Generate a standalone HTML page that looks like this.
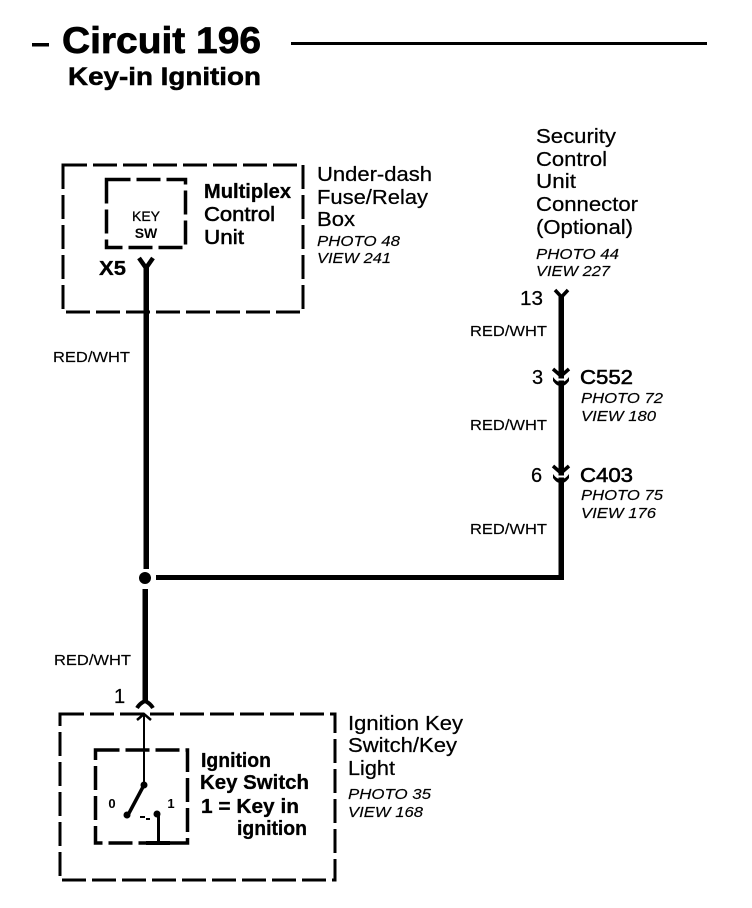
<!DOCTYPE html>
<html>
<head>
<meta charset="utf-8">
<style>
html,body{margin:0;padding:0;background:#fff;width:752px;height:908px;overflow:hidden}
svg{display:block}
text{font-family:"Liberation Sans",Arial,sans-serif;fill:#000}
.n{font-size:20px;stroke:#000;stroke-width:.25px}
.m{font-size:20px;stroke:#000;stroke-width:.55px}
.b{font-size:20px;font-weight:bold;stroke:#000;stroke-width:.3px}
.i{font-size:14.5px;font-style:italic;stroke:#000;stroke-width:.15px}
.w{font-size:14.5px;stroke:#000;stroke-width:.15px}
</style>
</head>
<body>
<svg width="752" height="908" viewBox="0 0 752 908" xmlns="http://www.w3.org/2000/svg">
<rect width="752" height="908" fill="#fff"/>
<!-- title -->
<rect x="32" y="43" width="17" height="3.500"/>
<rect x="291" y="42" width="416" height="3"/>
<text x="62" y="53" font-size="37" font-weight="bold" stroke="#000" stroke-width=".7" textLength="199" lengthAdjust="spacingAndGlyphs">Circuit 196</text>
<text x="68" y="85" font-size="25" font-weight="bold" stroke="#000" stroke-width=".5" textLength="193" lengthAdjust="spacingAndGlyphs">Key-in Ignition</text>

<!-- top-left boxes -->
<rect x="63" y="165" width="240" height="147" fill="none" stroke="#000" stroke-width="3" stroke-dasharray="24 6"/>
<rect x="106.500" y="179.500" width="79" height="68" fill="none" stroke="#000" stroke-width="3.500" stroke-dasharray="24 6"/>
<text x="146" y="221" font-size="14" stroke="#000" stroke-width=".3" text-anchor="middle">KEY</text>
<text x="146" y="238" font-size="14" font-weight="bold" text-anchor="middle">SW</text>
<text class="b" x="204" y="198" textLength="87" lengthAdjust="spacingAndGlyphs">Multiplex</text>
<text class="m" x="204" y="221" textLength="71" lengthAdjust="spacingAndGlyphs">Control</text>
<text class="m" x="204" y="244" textLength="40" lengthAdjust="spacingAndGlyphs">Unit</text>
<text class="b" x="99" y="275" textLength="27" lengthAdjust="spacingAndGlyphs">X5</text>
<text class="n" x="317" y="181" textLength="115" lengthAdjust="spacingAndGlyphs">Under-dash</text>
<text class="n" x="317" y="204" textLength="111" lengthAdjust="spacingAndGlyphs">Fuse/Relay</text>
<text class="n" x="317" y="226" textLength="38" lengthAdjust="spacingAndGlyphs">Box</text>
<text class="i" x="317" y="246" textLength="83" lengthAdjust="spacingAndGlyphs">PHOTO 48</text>
<text class="i" x="317" y="263" textLength="74" lengthAdjust="spacingAndGlyphs">VIEW 241</text>

<!-- main left wire -->
<path d="M139 258 L146 268 L153 258" fill="none" stroke="#000" stroke-width="4.500"/>
<rect x="143.500" y="266" width="5.500" height="303"/>
<text class="w" x="53" y="362" textLength="77" lengthAdjust="spacingAndGlyphs">RED/WHT</text>
<circle cx="145" cy="578" r="6"/>
<rect x="156" y="575" width="408" height="5"/>
<rect x="142.500" y="589" width="5.500" height="113"/>
<text class="w" x="54" y="665" textLength="77" lengthAdjust="spacingAndGlyphs">RED/WHT</text>
<text class="n" x="114" y="703">1</text>
<path d="M137 708 C140 703 143 702 145 701 C147 702 150 703 153 708" fill="none" stroke="#000" stroke-width="4"/>

<!-- right wire -->
<text class="n" x="536" y="143" textLength="80" lengthAdjust="spacingAndGlyphs">Security</text>
<text class="n" x="536" y="166" textLength="71" lengthAdjust="spacingAndGlyphs">Control</text>
<text class="n" x="536" y="188" textLength="40" lengthAdjust="spacingAndGlyphs">Unit</text>
<text class="n" x="536" y="211" textLength="102" lengthAdjust="spacingAndGlyphs">Connector</text>
<text class="n" x="536" y="234" textLength="97" lengthAdjust="spacingAndGlyphs">(Optional)</text>
<text class="i" x="536" y="259" textLength="83" lengthAdjust="spacingAndGlyphs">PHOTO 44</text>
<text class="i" x="536" y="276" textLength="74" lengthAdjust="spacingAndGlyphs">VIEW 227</text>
<text class="n" x="520" y="305" textLength="23" lengthAdjust="spacingAndGlyphs">13</text>
<path d="M555 290 L561.500 297 L568 290" fill="none" stroke="#000" stroke-width="3.500"/>
<rect x="558.500" y="296" width="5.500" height="284"/>
<text class="w" x="470" y="336" textLength="77" lengthAdjust="spacingAndGlyphs">RED/WHT</text>
<text class="w" x="470" y="430" textLength="77" lengthAdjust="spacingAndGlyphs">RED/WHT</text>
<text class="w" x="470" y="534" textLength="77" lengthAdjust="spacingAndGlyphs">RED/WHT</text>
<!-- C552 -->
<path d="M553 369 L561 376 L569 369" fill="none" stroke="#000" stroke-width="3.500"/>
<path d="M553 377 C556 381 558 382 561 382 C564 382 566 381 569 377 L569 381 C566 385 564 386 561 386 C558 386 556 385 553 381 Z"/>
<rect x="557" y="378.500" width="9" height="2" fill="#fff"/>
<text class="n" x="532" y="384">3</text>
<text class="m" x="580" y="384" textLength="53" lengthAdjust="spacingAndGlyphs">C552</text>
<text class="i" x="581" y="403" textLength="82" lengthAdjust="spacingAndGlyphs">PHOTO 72</text>
<text class="i" x="581" y="421" textLength="75" lengthAdjust="spacingAndGlyphs">VIEW 180</text>
<!-- C403 -->
<path d="M553 466 L561 473 L569 466" fill="none" stroke="#000" stroke-width="3.500"/>
<path d="M553 474 C556 478 558 479 561 479 C564 479 566 478 569 474 L569 478 C566 482 564 483 561 483 C558 483 556 482 553 478 Z"/>
<rect x="557" y="475.500" width="9" height="2" fill="#fff"/>
<text class="n" x="531" y="482">6</text>
<text class="m" x="580" y="482" textLength="53" lengthAdjust="spacingAndGlyphs">C403</text>
<text class="i" x="581" y="500" textLength="82" lengthAdjust="spacingAndGlyphs">PHOTO 75</text>
<text class="i" x="581" y="518" textLength="75" lengthAdjust="spacingAndGlyphs">VIEW 176</text>

<!-- bottom boxes -->
<rect x="60" y="714" width="275" height="166" fill="none" stroke="#000" stroke-width="3" stroke-dasharray="24 6"/>
<rect x="95.500" y="750" width="92" height="93" fill="none" stroke="#000" stroke-width="3.500" stroke-dasharray="24 6"/>
<path d="M137 720 L144 714 L151 720" fill="none" stroke="#000" stroke-width="2.500"/>
<rect x="143" y="714" width="2" height="70"/>
<circle cx="144" cy="785" r="3.500"/>
<path d="M144 785 L128 815" stroke="#000" stroke-width="3.500" fill="none"/>
<circle cx="127" cy="815" r="3.500"/>
<circle cx="157" cy="814" r="3.500"/>
<rect x="140" y="816" width="5" height="2"/>
<rect x="146" y="818" width="4" height="2"/>
<rect x="157" y="814" width="3" height="29"/>
<rect x="146" y="841" width="24" height="4"/>
<text x="112" y="808" font-size="13" font-weight="bold" text-anchor="middle">0</text>
<text x="171" y="808" font-size="13" font-weight="bold" text-anchor="middle">1</text>
<text class="b" x="201" y="767" textLength="70" lengthAdjust="spacingAndGlyphs">Ignition</text>
<text class="b" x="200" y="789" textLength="109" lengthAdjust="spacingAndGlyphs">Key Switch</text>
<text class="b" x="201" y="813" textLength="98" lengthAdjust="spacingAndGlyphs">1 = Key in</text>
<text class="b" x="237" y="835" textLength="70" lengthAdjust="spacingAndGlyphs">ignition</text>
<text class="n" x="348" y="730" textLength="115" lengthAdjust="spacingAndGlyphs">Ignition Key</text>
<text class="n" x="348" y="752" textLength="109" lengthAdjust="spacingAndGlyphs">Switch/Key</text>
<text class="n" x="348" y="775" textLength="47" lengthAdjust="spacingAndGlyphs">Light</text>
<text class="i" x="348" y="799" textLength="83" lengthAdjust="spacingAndGlyphs">PHOTO 35</text>
<text class="i" x="348" y="817" textLength="75" lengthAdjust="spacingAndGlyphs">VIEW 168</text>
</svg>
</body>
</html>
